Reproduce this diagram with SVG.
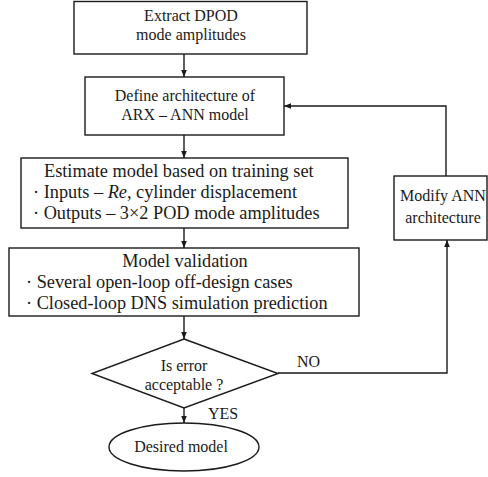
<svg xmlns="http://www.w3.org/2000/svg" width="488" height="477" viewBox="0 0 488 477">
<defs>
<style>
.box{fill:#fff;stroke:#1a1a1a;stroke-width:1.4}
.ln{fill:none;stroke:#1a1a1a;stroke-width:1.4}
.t{fill:#1a1a1a}
.s{font-size:16px}
.m{font-size:18.3px}
.c{text-anchor:middle}
</style>
<marker id="ah" viewBox="0 0 10 10" refX="10" refY="5" markerWidth="7" markerHeight="7" markerUnits="userSpaceOnUse" orient="auto">
<path d="M0,1 L10,5 L0,9 Z" fill="#1a1a1a"/>
</marker>
</defs>
<rect width="488" height="477" fill="#fff"/>
<g font-family="Liberation Serif, Times New Roman, serif">
<g id="connectors">
<line class="ln" x1="184" y1="54" x2="184" y2="77" marker-end="url(#ah)"/>
<line class="ln" x1="184" y1="135" x2="184" y2="158" marker-end="url(#ah)"/>
<line class="ln" x1="184" y1="228" x2="184" y2="248" marker-end="url(#ah)"/>
<line class="ln" x1="184" y1="316" x2="184" y2="339" marker-end="url(#ah)"/>
<line class="ln" x1="184" y1="408" x2="184" y2="423" marker-end="url(#ah)"/>
<polyline class="ln" points="278,373 447,373 447,240" marker-end="url(#ah)"/>
<polyline class="ln" points="446,176 446,106 284,106" marker-end="url(#ah)"/>
<text class="t s" x="297" y="367">NO</text>
<text class="t s" x="208" y="419">YES</text>
</g>
<g id="extract">
<rect class="box" x="74" y="1.5" width="233" height="52.5"/>
<text class="t s c" x="191" y="21">Extract DPOD</text>
<text class="t s c" x="191" y="40">mode amplitudes</text>
</g>
<g id="define">
<rect class="box" x="85" y="77" width="199" height="58"/>
<text class="t s c" x="185" y="101">Define architecture of</text>
<text class="t s c" x="185" y="120">ARX – ANN model</text>
</g>
<g id="estimate">
<rect class="box" x="21" y="158" width="327" height="70"/>
<text class="t m" x="44" y="177">Estimate model based on training set</text>
<text class="t m" x="33" y="198">· Inputs – <tspan font-style="italic">Re</tspan>, cylinder displacement</text>
<text class="t m" x="33" y="219">· Outputs – 3×2 POD mode amplitudes</text>
</g>
<g id="validation">
<rect class="box" x="9" y="248" width="350" height="68"/>
<text class="t m c" x="185" y="267">Model validation</text>
<text class="t m" x="26" y="288">· Several open-loop off-design cases</text>
<text class="t m" x="26" y="309">· Closed-loop DNS simulation prediction</text>
</g>
<g id="decision">
<polygon class="box" points="184,339 278,373.5 184,408 92,373.5"/>
<text class="t s c" x="184" y="371">Is error</text>
<text class="t s c" x="184" y="390">acceptable ?</text>
</g>
<g id="modify">
<rect class="box" x="394" y="176" width="93" height="64"/>
<text class="t s c" x="443" y="201">Modify ANN</text>
<text class="t s c" x="443" y="223">architecture</text>
</g>
<g id="desired">
<ellipse class="box" cx="184" cy="447" rx="75" ry="24"/>
<text class="t s c" x="181" y="452">Desired model</text>
</g>
</g>
</svg>
